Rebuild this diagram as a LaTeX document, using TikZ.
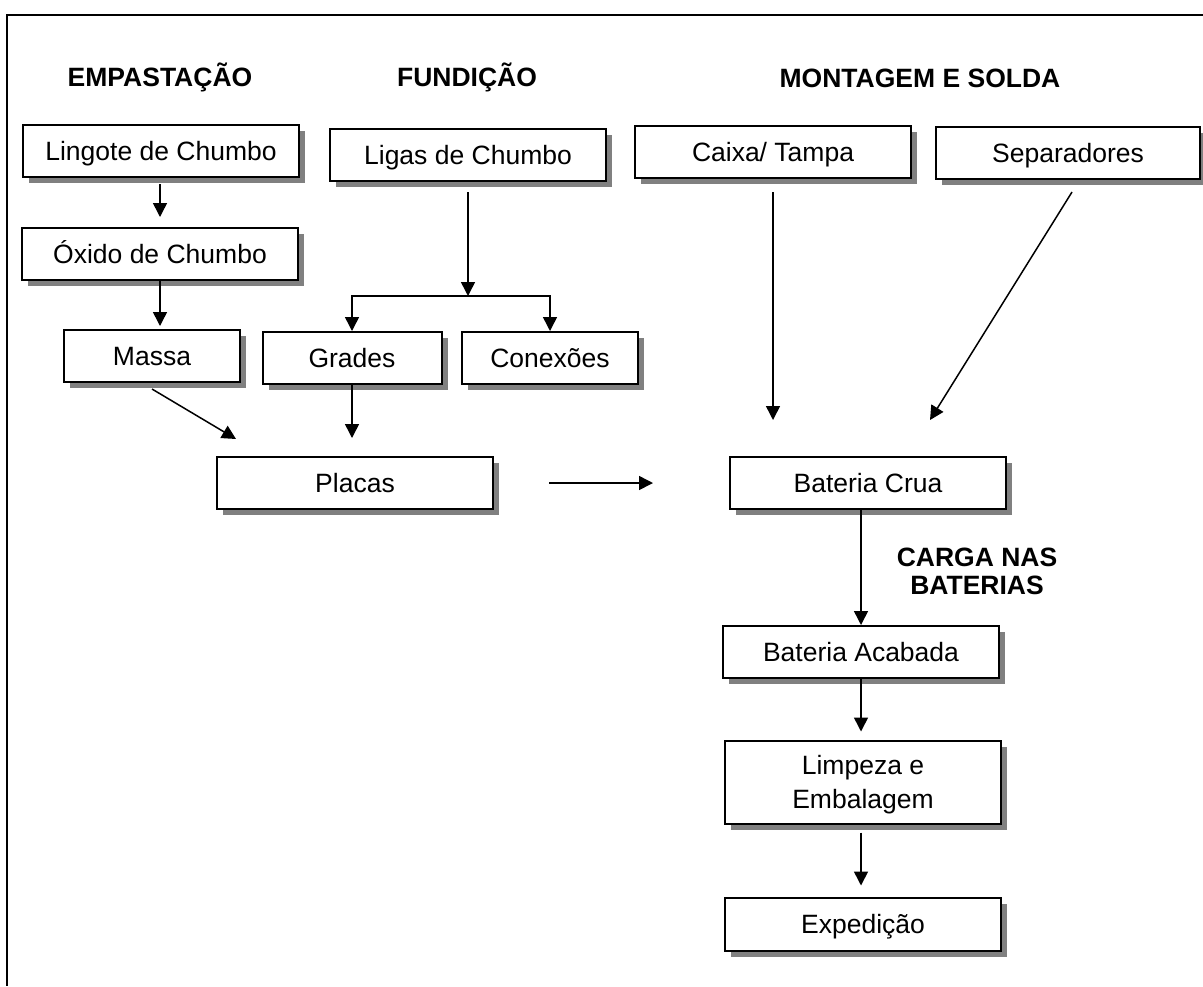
\documentclass[tikz,border=0pt]{standalone}
\usepackage{fontspec}
\setmainfont{Liberation Sans}
\usetikzlibrary{arrows.meta,shadows}

\begin{document}
\begin{tikzpicture}[x=0.5pt,y=-0.5pt,font=\fontsize{13.25}{17}\selectfont]

        \useasboundingbox (0,0) rectangle (1203,986);
        \draw [line width=1pt] (1203,15) -- (7,15) -- (7,986);

        \begin{scope}[every node/.style={font=\fontsize{13.25}{14}\selectfont\bfseries,align=center}]
            \node [anchor=base] (hemp) at (160,86) {EMPASTAÇÃO};
            \node [anchor=base] (hfund) at (467,86) {FUNDIÇÃO};
            \node [anchor=base] (hmont) at (920,87) {MONTAGEM E SOLDA};
            \node [text height=23.5pt,text depth=0pt] (hcarga) at (977,571) {CARGA NAS\\BATERIAS};
        \end{scope}

        \begin{scope}[every node/.style={draw,line width=1pt,fill=white,minimum width=138pt,minimum height=26pt,text height=9.5pt,text depth=0pt,drop shadow={shadow xshift=3pt,shadow yshift=-3pt,fill=gray,opacity=1}}]
            \node (lingote) at (161,151) {Lingote de Chumbo};
            \node (oxido) at (160,254) {Óxido de Chumbo};
            \node [minimum width=88pt] (massa) at (152,356) {Massa};
            \node (ligas) at (468,155) {Ligas de Chumbo};
            \node [minimum width=89.5pt] (grades) at (352,358) {Grades};
            \node [minimum width=88pt] (conexoes) at (550,358) {Conexões};
            \node (placas) at (355,483) {Placas};
            \node (caixa) at (773,152) {Caixa/ Tampa};
            \node [minimum width=132pt] (separadores) at (1068,153) {Separadores};
            \node (crua) at (868,483) {Bateria Crua};
            \node (acabada) at (861,652) {Bateria Acabada};
            \node [minimum height=41.5pt,text height=26.5pt,align=center] (limpeza) at (863,782) {Limpeza e\\Embalagem};
            \node [minimum height=26.5pt] (expedicao) at (863,924) {Expedição};
        \end{scope}

        \begin{scope}[line width=0.75pt, every edge/.style={draw}, >={Triangle[length=7pt,width=7pt]}]
            \coordinate (fork) at (468,296);

            \path [->] (oxido.north |- lingote.south) edge [shorten <=3pt, shorten >=5pt] (oxido.north);
            \path [->] (oxido.south) edge [shorten >=1.5pt] (oxido.south |- massa.north);
            \path [->] ([yshift=-3pt]massa.south) edge ([xshift=10pt,yshift=8.5pt]placas.north west);

            \path [->] ([yshift=-5pt]ligas.south) edge (fork);
            \draw [->] (fork) -| (grades);
            \draw [->] (fork) -| (conexoes);
            \path [->] (grades.south) edge [shorten >=9pt] (grades.south |- placas.north);

            \path [->] ([xshift=27.5pt]placas.east) edge ([xshift=-38pt]crua.west);

            \path [->] ([yshift=-6.5pt]caixa.south) edge [shorten >=18pt] (caixa.south |- crua.north);
            \path [->] ([xshift=2pt,yshift=-6pt]separadores.south) edge ([xshift=31pt,yshift=18pt]crua.north);

            \path [->] (crua.south -| acabada.north) edge (acabada.north);
            \path [->] (acabada.south) edge [shorten >=4pt] (acabada.south |- limpeza.north);
            \path [->] (acabada.south |- limpeza.south) edge [shorten <=4pt, shorten >=5.5pt] (acabada.south |- expedicao.north);
        \end{scope}

    \end{tikzpicture}
\end{document}
